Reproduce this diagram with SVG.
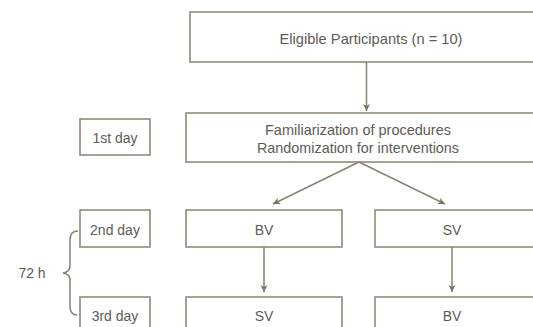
<svg xmlns="http://www.w3.org/2000/svg" width="533" height="327" viewBox="0 0 533 327">
<style>
.box{fill:#fff;stroke:#8a8270;stroke-width:1.5}
.t{font-family:"Liberation Sans",Arial,sans-serif;font-size:14px;fill:#5e5b54;text-anchor:middle;dominant-baseline:central}
.b{font-size:15px}
.c{fill:none;stroke:#8a8270;stroke-width:1.5}
</style>
<defs>
<marker id="ah" markerWidth="8" markerHeight="8" refX="7" refY="4" orient="auto" markerUnits="userSpaceOnUse">
<path d="M0,0.5 L7,4 L0,7.5 L2,4 Z" fill="#7a7262"/>
</marker>
</defs>
<rect width="533" height="327" fill="#fff"/>
<g id="eligible"><rect class="box" x="190" y="12" width="354" height="50"/><text class="t b" x="371" y="38" textLength="183" lengthAdjust="spacingAndGlyphs">Eligible Participants (n = 10)</text></g>
<g id="familiarization"><rect class="box" x="186" y="113" width="350" height="49"/><text class="t b" x="358" y="129.5" textLength="186" lengthAdjust="spacingAndGlyphs">Familiarization of procedures</text><text class="t b" x="358" y="147" textLength="202" lengthAdjust="spacingAndGlyphs">Randomization for interventions</text></g>
<g id="day1"><rect class="box" x="80" y="119" width="70" height="36"/><text class="t" x="115" y="137.5">1st day</text></g>
<g id="day2"><rect class="box" x="80" y="210" width="70" height="37"/><text class="t" x="115" y="229.5">2nd day</text></g>
<g id="day3"><rect class="box" x="80" y="297" width="70" height="40"/><text class="t" x="115" y="315.5">3rd day</text></g>
<g id="bv1"><rect class="box" x="186" y="210" width="156" height="37"/><text class="t" x="264" y="229.5">BV</text></g>
<g id="sv1"><rect class="box" x="375" y="210" width="170" height="37"/><text class="t" x="452" y="229.5">SV</text></g>
<g id="sv2"><rect class="box" x="186" y="297" width="156" height="40"/><text class="t" x="264" y="315.5">SV</text></g>
<g id="bv2"><rect class="box" x="375" y="297" width="170" height="40"/><text class="t" x="452" y="315.5">BV</text></g>
<g id="brace"><path class="c" d="M78,231 Q70,231 70,240 L70,266 Q70,272 63,273 Q70,274 70,280 L70,306 Q70,315 77,315"/><text class="t" x="32" y="272.5">72 h</text></g>
<g id="connectors">
<line class="c" x1="366.5" y1="62" x2="366.5" y2="111" marker-end="url(#ah)"/>
<line class="c" x1="359" y1="162" x2="273" y2="204" marker-end="url(#ah)"/>
<line class="c" x1="359" y1="162" x2="445" y2="204" marker-end="url(#ah)"/>
<line class="c" x1="264" y1="247" x2="264" y2="292" marker-end="url(#ah)"/>
<line class="c" x1="452" y1="247" x2="452" y2="292" marker-end="url(#ah)"/>
</g>
</svg>
